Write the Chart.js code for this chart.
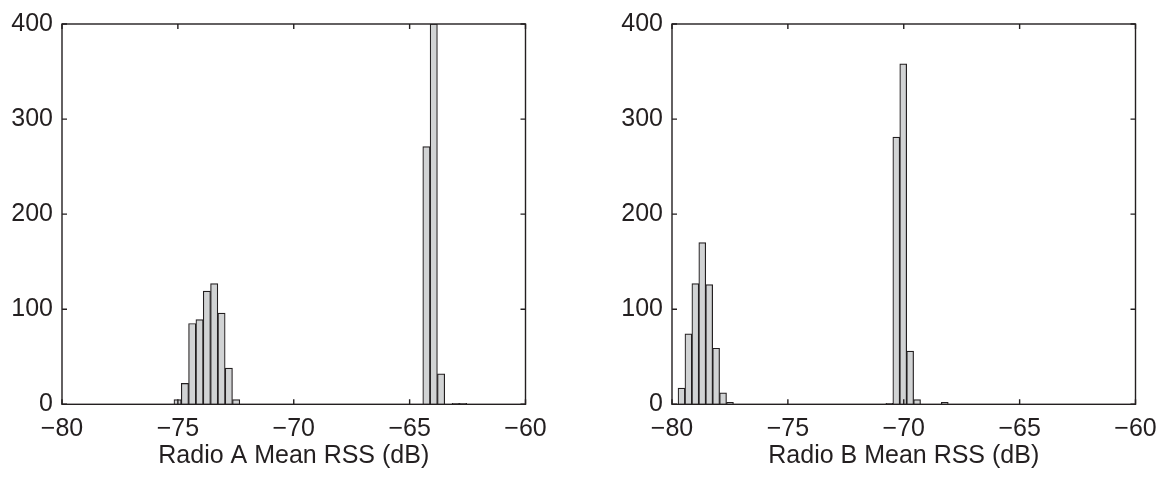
<!DOCTYPE html>
<html>
<head>
<meta charset="utf-8">
<script src="https://cdn.jsdelivr.net/npm/chart.js@4/dist/chart.umd.min.js"></script>
<style>
  body { margin: 0; background: #fff; width: 1161px; height: 483px; overflow: hidden; position: relative; }
  canvas { position: absolute; top: 0; }
  #chartA { left: 0; }
  #chartB { left: 610px; }
</style>
</head>
<body>
<canvas id="chartA" width="560" height="483"></canvas>
<canvas id="chartB" width="560" height="483"></canvas>
<script>
// histogram bin centres (dB) and counts
var radioA_bins = [-75.012, -74.696, -74.381, -74.065, -73.749, -73.433, -73.117, -72.802, -72.486,
                   -64.275, -63.959, -63.643, -63.012, -62.696];
var radioA_counts = [5, 22, 85, 89, 119, 127, 96, 38, 5,
                     271, 400, 32, 1, 1];

var radioB_bins = [-79.591, -79.292, -78.993, -78.694, -78.395, -78.096, -77.797, -77.498,
                   -70.621, -70.322, -70.023, -69.724, -69.425, -68.229];
var radioB_counts = [17, 74, 127, 170, 126, 59, 12, 2,
                     1, 281, 358, 56, 5, 2];

var xTicksMin = -80, xTicksMax = -60, xStep = 5;
var yTicksMin = 0, yTicksMax = 400, yStep = 100;

var titles = ["Radio A Mean RSS (dB)", "Radio B Mean RSS (dB)"];

var ink = '#231f20';
var fontFam = '"Liberation Sans", Arial, Helvetica, sans-serif';

// matlab style box with inward ticks
var boxTicks = {
  id: 'boxTicks',
  afterDatasetsDraw: function (chart) {
    var ctx = chart.ctx, a = chart.chartArea;
    var x = chart.scales.x, y = chart.scales.y;
    ctx.save();
    ctx.strokeStyle = ink;
    ctx.lineWidth = 1.4;
    ctx.beginPath();
    x.ticks.forEach(function (t) {
      var px = x.getPixelForValue(t.value);
      ctx.moveTo(px, a.bottom); ctx.lineTo(px, a.bottom - 5);
      ctx.moveTo(px, a.top); ctx.lineTo(px, a.top + 5);
    });
    y.ticks.forEach(function (t) {
      var py = y.getPixelForValue(t.value);
      ctx.moveTo(a.left, py); ctx.lineTo(a.left + 5, py);
      ctx.moveTo(a.right, py); ctx.lineTo(a.right - 5, py);
    });
    ctx.stroke();
    ctx.strokeRect(a.left, a.top, a.right - a.left, a.bottom - a.top);
    ctx.restore();
  }
};

function minusFmt(v) {
  return v < 0 ? '\u2212' + Math.abs(v) : String(v);
}

function makeHist(id, bins, counts, title) {
  var pts = [];
  for (var i = 0; i < bins.length; i++) {
    pts.push({ x: bins[i], y: counts[i] });
  }
  return new Chart(document.getElementById(id), {
    type: 'bar',
    data: {
      datasets: [{
        data: pts,
        backgroundColor: '#d1d3d4',
        borderColor: ink,
        borderWidth: 1.2,
        barPercentage: 1,
        categoryPercentage: 1,
        borderSkipped: 'start'
      }]
    },
    options: {
      responsive: false,
      animation: false,
      layout: { padding: { left: 0, right: 34.5, top: 20, bottom: 0 } },
      plugins: { legend: { display: false }, tooltip: { enabled: false } },
      scales: {
        x: {
          type: 'linear',
          min: xTicksMin, max: xTicksMax,
          offset: false,
          grid: { display: false, offset: false, drawTicks: false },
          border: { display: false },
          ticks: {
            stepSize: xStep,
            color: ink,
            padding: 10,
            maxRotation: 0,
            font: { family: fontFam, size: 25 },
            callback: minusFmt
          },
          title: {
            display: true,
            text: title,
            color: ink,
            padding: { top: 0, bottom: 12 },
            font: { family: fontFam, size: 25 }
          },
          afterFit: function (s) { s.height = 78.7; }
        },
        y: {
          min: yTicksMin, max: yTicksMax,
          grid: { display: false, drawTicks: false },
          border: { display: false },
          ticks: {
            stepSize: yStep,
            color: ink,
            padding: 9,
            font: { family: fontFam, size: 25 }
          },
          afterFit: function (s) { s.width = 62; }
        }
      }
    },
    plugins: [boxTicks]
  });
}

makeHist('chartA', radioA_bins, radioA_counts, titles[0]);
makeHist('chartB', radioB_bins, radioB_counts, titles[1]);
</script>
</body>
</html>
